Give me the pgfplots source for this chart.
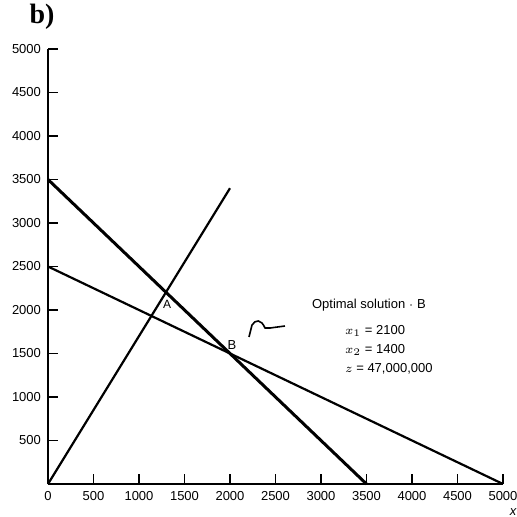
\documentclass[border=0pt]{standalone}
\usepackage{fontspec}
\setmainfont{Liberation Sans}
\newfontfamily\serifb{Liberation Serif}
\usepackage{pgfplots}
\pgfplotsset{compat=1.18}

\begin{document}
\begin{tikzpicture}
\useasboundingbox (-24pt,-16.5pt) rectangle (234.5pt,242pt);
\begin{axis}[
    at={(0,0)}, anchor=south west,
    width=227.5pt, height=217.5pt, scale only axis,
    xmin=0, xmax=5000, ymin=0, ymax=5000,
    axis x line=bottom, axis y line=left,
    axis line style={-, line width=0.8pt},
    xtick={0,500,...,5000},
    ytick={500,1000,...,5000},
    tick align=inside,
    major tick length=5pt,
    tick style={line width=0.7pt, black},
    /pgf/number format/1000 sep={},
    /pgf/number format/assume math mode=true,
    tick label style={font=\fontsize{6.5}{7}\selectfont},
    clip=false,
]
% x1 + x2 = 3500
\addplot[black, line width=1.5pt] coordinates {(0,3500) (3500,0)};
% x1 + 2 x2 = 5000
\addplot[black, line width=1.1pt] coordinates {(0,2500) (5000,0)};
% x2 = 1.7 x1
\addplot[black, line width=1.1pt] coordinates {(0,0) (2000,3400)};

\node[font=\fontsize{6}{7}\selectfont, inner sep=0pt] at (axis cs:1310,2060) {A};
\node[font=\fontsize{6.5}{7}\selectfont] at (axis cs:2022,1598) {B};
\draw[black, line width=0.8pt] (axis cs:2209,1690) -- (axis cs:2242,1828)
    .. controls (axis cs:2280,1890) and (axis cs:2340,1900) .. (axis cs:2385,1793)
    -- (axis cs:2440,1793) -- (axis cs:2604,1816);
\node[anchor=west, font=\fontsize{6.5}{7}\selectfont] at (axis cs:2824,2057) {Optimal solution $\cdot$ B};
\node[anchor=west, font=\fontsize{6.5}{7}\selectfont] at (axis cs:3187,1759) {$x_1$ = 2100};
\node[anchor=west, font=\fontsize{6.5}{7}\selectfont] at (axis cs:3187,1540) {$x_2$ = 1400};
\node[anchor=west, font=\fontsize{6.5}{7}\selectfont] at (axis cs:3187,1322) {$z$ = 47,000,000};
\end{axis}
\node[font=\serifb\bfseries\fontsize{14}{16}\selectfont] at (-3pt,233.5pt) {b)};
\node[font=\fontsize{6.5}{7}\selectfont\itshape] at (232.5pt,-14pt) {x};
\end{tikzpicture}
\end{document}
